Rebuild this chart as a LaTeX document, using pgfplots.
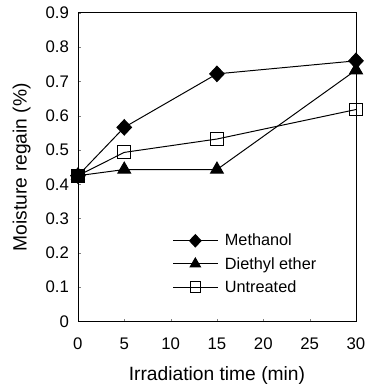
\documentclass[border=0pt]{standalone}
\usepackage{pgfplots}
\pgfplotsset{compat=1.18}
\usepackage{fontspec}
\setmainfont{Liberation Sans}
\begin{document}
\begin{tikzpicture}
\begin{axis}[
  scale only axis,
  width=282pt, height=313pt,
  xmin=0, xmax=30, ymin=0, ymax=0.9,
  xtick={0,5,10,15,20,25,30},
  ytick={0,0.1,0.2,0.3,0.4,0.5,0.6,0.7,0.8,0.9},
  yticklabel style={/pgf/number format/fixed, /pgf/number format/precision=1, inner sep=0pt, xshift=-9pt},
  xticklabel style={anchor=base, inner sep=0pt, yshift=-28pt},
  /pgf/number format/assume math mode=true,
  tick align=inside, major tick length=3pt,
  xtick pos=bottom, ytick pos=left,
  ticklabel style={font=\fontsize{17}{19}\selectfont},
  label style={font=\fontsize{19.5}{22}\selectfont},
  xlabel={Irradiation time (min)},
  ylabel={Moisture regain (\%)},
  xlabel style={at={(axis description cs:0.5,-0.192)}, anchor=base},
  ylabel style={at={(axis description cs:-0.184,0.5)}, anchor=base},
  axis line style={line width=0.8pt},
  legend style={draw=none, fill=none, at={(0.34,0.29)}, anchor=north west,
    inner sep=0pt, font=\fontsize{16.5}{19}\selectfont, row sep=6pt,
    nodes={inner sep=2pt}},
  legend cell align=left,
  legend image code/.code={\draw[mark repeat=2,mark phase=2,/tikz/every mark/.append style={scale=0.8}] plot coordinates {(0pt,0pt) (22.5pt,0pt) (45pt,0pt)};},
  every axis plot/.append style={line width=1pt, black},
]
\addplot[mark=diamond*, mark size=7.8pt, mark options={fill=black, xscale=1.25}] coordinates {(0,0.425) (5,0.566) (15,0.722) (30,0.760)};
\addlegendentry{\hspace{5pt}Methanol}
\addplot[mark=triangle*, mark size=7.5pt, mark options={fill=black}] coordinates {(0,0.425) (5,0.443) (15,0.443) (30,0.733)};
\addlegendentry{\hspace{5pt}Diethyl ether}
\addplot[mark=square, mark size=6.5pt, mark options={fill=white}] coordinates {(0,0.425) (5,0.493) (15,0.532) (30,0.618)};
\addlegendentry{\hspace{5pt}Untreated}
\addplot[mark=square*, mark size=6.5pt, only marks, forget plot] coordinates {(0,0.425)};
\end{axis}
\path ([xshift=-79pt,yshift=-62pt]current axis.south west) rectangle ([xshift=13pt,yshift=13pt]current axis.north east);
\end{tikzpicture}
\end{document}
